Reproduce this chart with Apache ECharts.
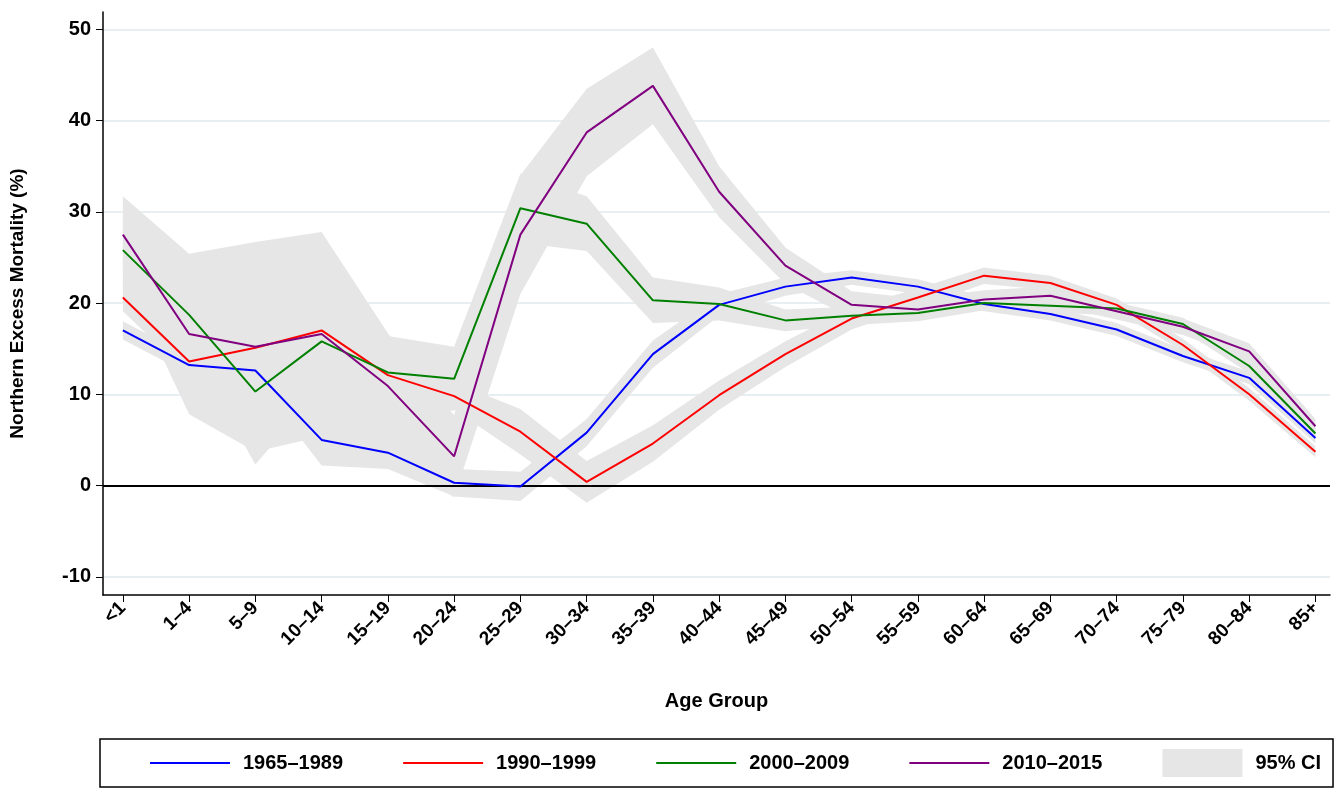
<!DOCTYPE html>
<html>
<head>
<meta charset="utf-8">
<script src="https://cdn.jsdelivr.net/npm/echarts@6/dist/echarts.min.js"></script>
<style>html,body{margin:0;padding:0;background:#fff}#chart{width:1338px;height:789px}</style>
</head>
<body>
<div id="chart"></div>
<script>
// 年龄组
const ageGroups = ['<1','1–4','5–9','10–14','15–19','20–24','25–29','30–34','35–39','40–44','45–49','50–54','55–59','60–64','65–69','70–74','75–79','80–84','85+'];

// 各时期超额死亡率 (%)
const p1965 = [17.0,13.2,12.6,5.0,3.6,0.3,-0.1,5.8,14.4,19.8,21.8,22.8,21.8,19.9,18.8,17.1,14.2,11.8,5.2];
const p1990 = [20.6,13.6,15.1,17.0,12.1,9.8,5.9,0.4,4.6,9.9,14.4,18.3,20.6,23.0,22.2,19.8,15.4,10.0,3.7];
const p2000 = [25.8,18.7,10.3,15.8,12.4,11.7,30.4,28.7,20.3,19.9,18.1,18.6,18.9,20.0,19.7,19.4,17.7,13.1,5.7];
const p2010 = [27.5,16.6,15.2,16.6,10.9,3.2,27.5,38.7,43.8,32.2,24.1,19.8,19.3,20.4,20.8,19.1,17.4,14.7,6.5];

// 95% 置信区间半宽
const ci1965 = [1.0,1.0,1.0,2.8,1.8,1.5,1.6,1.5,1.5,1.2,1.0,0.8,0.8,0.8,0.7,0.7,0.7,0.7,0.6];
const ci1990 = [1.5,1.5,1.5,1.5,1.5,1.5,2.5,2.3,2.0,1.6,1.4,1.2,1.0,0.9,0.8,0.7,0.7,0.7,0.6];
const ci2000 = [4.0,3.5,8.0,5.0,4.0,3.5,3.8,3.0,2.5,1.8,1.2,1.0,0.9,0.8,0.8,0.7,0.7,0.8,0.7];
const ci2010 = [4.2,8.8,11.5,11.2,5.8,4.5,6.5,4.8,4.2,2.8,2.0,1.5,1.2,1.0,1.0,0.9,0.9,0.9,0.8];

const lines = [
    {name: '1965–1989', data: p1965, ci: ci1965, color: '#0000ff'},
    {name: '1990–1999', data: p1990, ci: ci1990, color: '#ff0000'},
    {name: '2000–2009', data: p2000, ci: ci2000, color: '#008000'},
    {name: '2010–2015', data: p2010, ci: ci2010, color: '#800080'}
];

const bandColor = '#e6e6e6';
const series = [];
// 置信带：用 custom 系列画多边形
lines.forEach(l => {
    const upper = l.data.map((v, i) => [i, v + l.ci[i]]);
    const lower = l.data.map((v, i) => [i, v - l.ci[i]]).reverse();
    series.push({
        name: '95% CI', type: 'custom', silent: true, z: 1,
        itemStyle: {color: bandColor},
        data: [0],
        renderItem: (params, api) => ({
            type: 'polygon',
            shape: {points: upper.concat(lower).map(p => api.coord(p))},
            style: {fill: bandColor}
        })
    });
});
lines.forEach(l => {
    series.push({
        name: l.name, type: 'line', symbol: 'none', color: l.color,
        lineStyle: {width: 2, color: l.color}, z: 5,
        data: l.data.map((v, i) => [i, v])
    });
});
// 零线
series.push({
    type: 'line', symbol: 'none', silent: true, data: [], z: 3,
    markLine: {symbol: 'none', silent: true, label: {show: false},
        lineStyle: {color: '#000', width: 2, type: 'solid'}, data: [{yAxis: 0}]}
});

const chart = echarts.init(document.getElementById('chart'));
const font = 'Liberation Sans, Arial, sans-serif';
chart.setOption({
    animation: false,
    textStyle: {fontFamily: font},
    grid: {left: 100, right: 8, top: 12, bottom: 194},
    xAxis: {
        type: 'value', min: -0.3, max: 18.22,
        name: 'Age Group', nameLocation: 'middle', nameGap: 96,
        nameTextStyle: {fontSize: 20, fontWeight: 'bold', color: '#000'},
        axisLine: {onZero: false, lineStyle: {color: '#000', width: 1.5}},
        splitLine: {show: false},
        axisTick: {customValues: ageGroups.map((_, i) => i), length: 7, lineStyle: {color: '#000'}},
        axisLabel: {
            customValues: ageGroups.map((_, i) => i),
            formatter: v => ageGroups[Math.round(v)],
            rotate: 45, fontSize: 19, fontWeight: 'bold', color: '#000', margin: 10
        }
    },
    yAxis: {
        type: 'value', min: -12, max: 51.9,
        name: 'Northern Excess Mortality (%)', nameLocation: 'middle', nameGap: 76,
        nameTextStyle: {fontSize: 19, fontWeight: 'bold', color: '#000'},
        axisLine: {show: true, onZero: false, lineStyle: {color: '#000', width: 1.5}},
        axisTick: {show: true, customValues: [-10,0,10,20,30,40,50], length: 7, lineStyle: {color: '#000'}},
        axisLabel: {customValues: [-10,0,10,20,30,40,50], fontSize: 20, fontWeight: 'bold', color: '#000', margin: 12},
        splitLine: {show: true, lineStyle: {color: '#e8eff2', width: 2}}
    },
    legend: {
        bottom: 2, left: 100, width: 1200, height: 28,
        padding: [10, 12, 10, 50],
        borderColor: '#000', borderWidth: 1.5,
        itemGap: 60, itemWidth: 80, itemHeight: 28,
        textStyle: {fontSize: 20, fontWeight: 'bold', color: '#000', padding: [0, 0, 0, 8]},
        data: [
            ...lines.map(l => ({name: l.name, icon: 'path://M0,14L80,14L80,16L0,16Z', itemStyle: {color: l.color}})),
            {name: '95% CI', icon: 'rect', itemStyle: {color: bandColor}}
        ]
    },
    series: series
});
</script>
</body>
</html>
